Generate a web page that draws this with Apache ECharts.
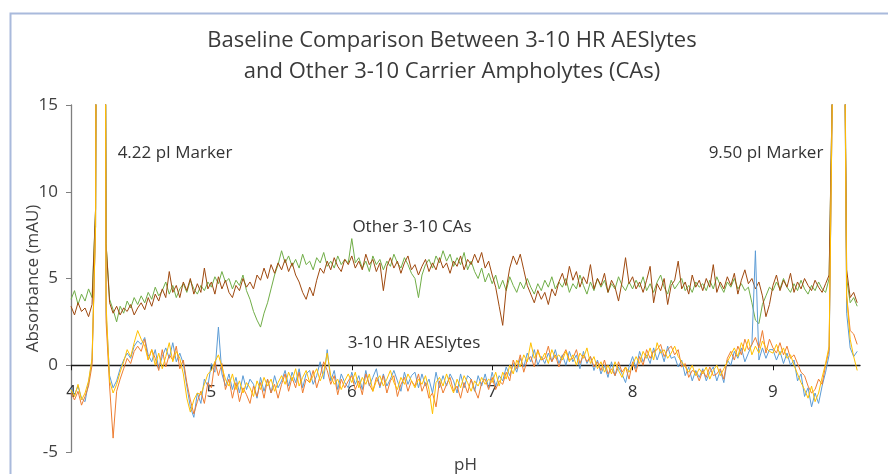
<!DOCTYPE html>
<html>
<head>
<meta charset="utf-8">
<script src="https://cdn.jsdelivr.net/npm/echarts@6/dist/echarts.min.js"></script>
<style>
html,body{margin:0;padding:0;background:#fff;}
#chart{width:888px;height:474px;}
</style>
</head>
<body>
<div id="chart"></div>
<script>
var phStart = 4.0;
var phStep = 0.025;

var xTicks = [4, 5, 6, 7, 8, 9];
var yTicks = [-5, 0, 5, 10, 15];

// Other 3-10 CAs (green)
var caGreen = [
 3.8, 4.3, 3.5, 4.1, 3.7, 4.4, 3.9, 9, 80, 80, 7, 3.8, 3.2, 2.5, 3.4, 3.0, 3.7, 3.3, 3.9, 3.5,
 4.0, 3.6, 4.2, 3.8, 4.5, 4.0, 4.3, 4.8, 4.1, 4.6, 3.9, 4.4, 4.7, 4.2, 4.9, 4.4, 4.1, 4.6, 4.3, 4.8,
 4.5, 5.1, 4.7, 5.4, 4.8, 5.0, 4.4, 4.9, 4.6, 5.2, 4.3, 3.8, 3.1, 2.6, 2.2, 3.0, 3.6, 4.4, 5.2, 5.8,
 6.6, 5.9, 6.3, 5.7, 6.1, 5.6, 6.4, 5.8, 6.0, 5.5, 6.2, 5.9, 6.5, 5.7, 6.0, 5.6, 6.3, 5.8, 6.1, 5.9,
 7.3, 5.9, 6.2, 5.6, 6.0, 5.4, 6.3, 5.8, 6.1, 5.5, 6.0, 5.7, 6.4, 5.9, 5.6, 6.2, 5.8, 5.3, 5.0, 3.9,
 5.2, 5.8, 6.1, 5.6, 6.3, 5.9, 6.6, 6.0, 6.4, 5.7, 6.2, 5.8, 6.5, 5.5, 6.0, 5.4, 5.0, 5.6, 4.8, 5.3,
 4.7, 5.2, 4.4, 4.9, 4.3, 5.1, 4.6, 4.2, 4.8, 4.4, 5.0, 4.5, 4.1, 4.7, 4.3, 4.9, 4.5, 5.1, 4.4, 4.8,
 4.5, 5.0, 4.2, 4.7, 4.4, 5.2, 4.6, 4.1, 4.8, 4.3, 5.0, 4.5, 4.9, 4.2, 4.7, 4.4, 5.1, 4.6, 4.3, 4.8,
 4.4, 4.9, 4.5, 5.1, 4.3, 4.7, 4.2, 4.8, 5.2, 4.5, 4.1, 4.9, 4.4, 4.7, 5.0, 4.3, 4.6, 4.2, 4.8, 4.5,
 4.7, 4.3, 4.9, 4.4, 5.1, 4.6, 4.2, 4.8, 4.5, 5.0, 4.4, 4.7, 4.3, 4.5, 3.6, 2.6, 2.4, 3.5, 4.0, 4.5,
 4.3, 4.8, 4.4, 5.0, 4.5, 4.2, 4.7, 4.3, 4.9, 4.4, 4.1, 4.6, 4.3, 4.8, 4.4, 4.2, 5.0, 17, 80, 80,
 30, 5.0, 3.6, 3.9, 3.4
];

// Other 3-10 CAs (brown)
var caBrown = [
 3.4, 2.9, 3.6, 3.1, 3.3, 2.8, 3.5, 9, 80, 80, 7, 3.6, 3.0, 3.4, 2.9, 3.3, 3.1, 3.5, 2.9, 3.3,
 3.6, 3.2, 3.9, 3.4, 4.1, 3.7, 4.4, 3.9, 5.4, 4.2, 4.6, 3.9, 4.8, 4.3, 5.0, 4.1, 4.7, 4.2, 5.6, 4.4,
 4.8, 4.1, 5.1, 4.4, 4.9, 4.2, 3.9, 4.6, 4.3, 5.0, 4.5, 4.8, 4.4, 5.2, 4.9, 5.6, 5.0, 5.8, 5.3, 5.9,
 5.5, 6.1, 5.4, 5.9, 5.2, 4.8, 4.2, 3.8, 4.5, 4.0, 4.9, 5.6, 5.3, 6.0, 5.5, 6.2, 5.7, 5.4, 6.1, 5.8,
 6.3, 5.6, 6.0, 5.5, 6.4, 5.8, 6.1, 5.4, 5.9, 4.3, 5.7, 6.2, 5.6, 6.0, 5.3, 5.9, 6.3, 5.5, 5.8, 5.2,
 5.7, 6.1, 5.4, 5.9, 5.5, 6.2, 5.6, 5.9, 5.3, 6.0, 5.7, 6.3, 5.5, 6.1, 5.8, 6.4, 5.9, 6.5, 5.6, 6.0,
 5.2, 4.5, 3.4, 2.3, 4.4, 5.6, 6.3, 5.8, 6.4, 5.5, 4.6, 4.1, 3.6, 4.3, 3.8, 4.2, 3.5, 4.4, 4.0, 4.8,
 5.3, 4.6, 5.7, 4.9, 5.4, 4.5, 5.1, 4.7, 5.8, 4.4, 5.0, 4.6, 5.3, 4.2, 4.9, 4.5, 3.7, 4.8, 6.2, 4.7,
 5.1, 4.4, 4.8, 4.2, 4.9, 5.7, 3.6, 4.7, 4.3, 5.0, 3.5, 4.6, 4.9, 6.0, 4.4, 4.8, 4.1, 5.2, 4.5, 4.9,
 4.3, 5.0, 4.5, 5.8, 4.2, 4.8, 4.4, 5.1, 4.6, 5.3, 4.1, 4.9, 5.5, 4.7, 5.0, 4.4, 4.8, 4.0, 2.8, 3.5,
 4.6, 5.2, 4.3, 4.9, 4.5, 5.3, 4.2, 4.8, 4.4, 5.0, 4.6, 4.3, 4.9, 4.5, 4.2, 4.7, 5.2, 17, 80, 80,
 30, 5.5, 3.9, 4.2, 3.6
];

// 3-10 HR AESlytes (blue)
var aesBlue = [
 -1.3, -1.7, -1.2, -1.9, -2.1, -1.0, 0.3, 8, 80, 80, 3, -0.6, -1.3, -0.9, -0.2, 0.3, 0.7, 0.4, 1.1, 1.4,
 1.2, 1.6, 0.6, 0.2, 0.9, -0.2, 0.5, 1.0, 0.4, 1.3, 0.2, 0.7, 0.1, -1.2, -2.4, -3.0, -1.6, -2.2, -0.8, -1.2,
 0.1, -0.4, 2.2, -0.5, -1.2, -0.5, -1.4, -0.7, -1.6, -0.6, -1.4, -0.8, -1.1, -1.9, -0.7, -1.5, -0.8, -1.6, -0.6, -1.3,
 -0.9, -0.3, -1.2, -0.4, -1.0, -0.2, -1.3, -0.5, -0.3, -1.1, -0.6, 0.2, -0.8, 0.9, -0.9, -0.3, -1.4, -0.5, -1.0, -1.3,
 -0.4, -1.1, -0.6, -1.4, -0.3, -1.2, -0.7, -0.2, -1.3, -0.5, -1.2, -0.8, -0.3, -0.9, -1.5, -0.4, -1.1, -0.6, -0.4, -1.3,
 -0.5, -1.2, -0.8, -1.6, -0.4, -1.3, -0.6, -1.2, -0.5, -0.9, -1.6, -0.5, -1.3, -0.6, -0.8, -1.5, -0.6, -1.2, -0.5, -1.3,
 -0.4, -1.2, -0.6, -0.9, -0.1, -0.6, 0.1, -0.4, 0.4, -0.1, 0.7, 0.2, 0.9, 0.0, 0.5, 0.1, 0.7, 0.2, 0.9, 0.1,
 0.6, 0.0, 0.8, 0.2, 0.6, -0.2, 0.8, 0.1, 0.5, -0.3, 0.3, -0.5, 0.0, -0.7, 0.2, -0.6, -0.1, -0.5, -1.0, -0.1,
 0.5, -0.2, 0.8, 0.2, 0.6, 0.1, 1.0, 0.3, 0.9, 0.2, 1.1, 0.4, 0.5, -0.1, 0.3, -0.6, -0.1, -0.9, -0.3, -0.7,
 -0.2, -0.9, -0.4, -0.1, -0.9, -0.3, -1.0, 0.3, 0.0, 0.8, 0.4, 1.0, 0.2, 0.7, 1.2, 6.6, 0.3, 1.0, 0.4, 0.9,
 0.9, 0.3, 0.8, 0.1, 0.7, 0.0, 0.3, -0.9, -0.5, -1.8, -1.3, -2.4, -1.6, -2.2, -1.2, -0.4, 0.6, 17, 80, 80,
 30, 3, 1.0, 0.5, 0.8
];

// 3-10 HR AESlytes (orange)
var aesOrange = [
 -1.6, -2.0, -1.5, -2.3, -1.8, -1.2, 0.0, 8, 80, 80, 2.5, -1.2, -4.2, -1.5, -0.8, -0.2, 0.4, 0.1, 0.8, 1.1,
 0.8, 1.5, 0.3, 0.9, 0.4, -0.3, 0.9, -0.1, 0.6, 0.3, 1.1, -0.2, 0.3, -1.0, -2.0, -2.8, -2.1, -1.5, -2.2, -1.0,
 -1.3, 0.2, -0.6, 0.1, -1.4, -0.8, -1.9, -1.0, -2.1, -1.3, -1.7, -2.2, -1.2, -1.8, -1.0, -1.9, -0.8, -1.6, -1.1, -1.9,
 -1.1, -0.5, -1.5, -0.7, -1.3, -0.4, -1.6, -0.8, -1.0, -0.3, -1.3, -0.6, 0.2, -0.3, -1.1, -0.6, -1.7, -0.8, -1.3, -0.9,
 -0.6, -1.4, -0.9, -1.7, -0.5, -1.1, -1.5, -0.7, -1.2, -0.6, -1.6, -0.9, -0.6, -1.8, -1.1, -0.7, -1.5, -0.9, -1.2, -0.5,
 -1.5, -1.0, -1.9, -1.6, -2.4, -0.9, -1.6, -1.1, -0.7, -1.5, -1.2, -1.9, -1.0, -1.6, -0.8, -1.4, -1.9, -1.0, -0.8, -1.4,
 -0.7, -1.4, -0.9, -1.1, -0.4, -0.9, 0.3, -0.2, 0.6, -0.4, 0.3, 0.5, -0.1, 0.9, 0.3, 0.4, 1.1, 0.2, 0.6, -0.1,
 0.5, 0.9, 0.3, 0.4, 0.9, 0.1, 0.6, 0.2, 0.5, -0.1, 0.2, -0.3, 0.3, -0.5, -0.2, -0.6, 0.2, -0.4, -0.1, -0.8,
 0.2, -0.4, 0.5, 0.0, 0.9, 0.4, 0.8, 0.9, 1.2, 0.5, 0.9, 1.1, 0.6, 0.9, -0.1, 0.1, -0.7, -0.3, -0.4, -0.9,
 -0.3, -0.7, -0.1, -0.6, -0.5, -0.2, -0.8, 0.4, 0.8, 0.3, 1.1, 0.6, 1.5, 0.9, 1.2, 1.6, 1.0, 2.0, 0.7, 1.5,
 1.0, 0.7, 1.3, 0.6, 1.1, 0.4, 0.6, 0.1, -0.4, -0.6, -1.2, -1.6, -1.4, -0.8, -1.1, 0.0, 0.9, 17, 80, 80,
 30, 4, 2.0, 1.8, 1.2
];

// 3-10 HR AESlytes (gold)
var aesGold = [
 -1.4, -1.8, -1.1, -2.0, -1.6, -0.9, 0.4, 8, 80, 80, 3.5, -0.9, -1.6, -1.1, -0.4, 0.2, 0.9, 0.5, 1.3, 2.0,
 1.5, 1.1, 0.3, 0.9, 0.0, 0.7, -0.2, 0.5, 1.3, 0.2, 0.8, 0.4, -0.5, -1.9, -2.7, -2.0, -1.6, -1.7, -1.1, -0.5,
 -0.3, 0.2, 0.6, -0.1, -0.8, -1.2, -0.5, -1.4, -0.9, -1.6, -1.0, -1.3, -1.8, -0.9, -1.4, -0.7, -1.2, -0.8, -1.5, -1.0,
 -0.6, -1.1, -0.4, -0.9, -0.2, -1.2, -0.7, -0.3, -1.0, -0.6, -0.2, -0.9, -0.4, 0.7, -0.6, -1.1, -0.8, -1.4, -0.9, -0.5,
 -1.0, -0.4, -1.3, -0.7, -1.1, -0.5, -1.5, -0.9, -0.6, -1.2, -0.8, -0.3, -1.0, -1.4, -0.7, -1.1, -0.5, -0.9, -1.3, -0.8,
 -1.1, -0.6, -1.4, -2.8, -1.0, -0.7, -1.2, -0.5, -1.1, -1.6, -0.8, -1.3, -0.6, -1.0, -1.5, -0.9, -1.2, -0.7, -1.1, -0.8,
 -1.0, -0.4, -1.2, -0.4, -0.8, 0.0, -0.5, 0.3, -0.1, 0.6, 0.2, 1.3, 0.4, 0.8, 0.3, 0.7, 0.1, 0.9, 0.4, 0.6,
 0.3, 0.8, 0.2, 0.6, 0.0, 0.7, 0.4, 1.0, 0.1, 0.5, -0.2, 0.2, -0.4, 0.0, -0.5, 0.2, -0.3, -0.7, -0.1, -0.4,
 0.0, 0.5, 0.1, 0.8, 0.4, 1.0, 0.3, 1.3, 0.7, 0.9, 0.4, 0.7, 1.1, 0.5, 0.2, -0.1, -0.4, 0.0, -0.6, -0.2,
 -0.5, -0.1, -0.8, -0.3, 0.0, -0.6, -0.2, 0.2, 0.6, 1.0, 0.5, 1.3, 0.8, 1.5, 0.6, 1.1, 0.7, 1.4, 1.0, 0.8,
 0.7, 1.2, 0.6, 1.0, 0.4, 0.6, 0.0, -0.5, -1.0, -1.4, -1.9, -1.2, -2.1, -1.6, -0.7, 0.1, 1.1, 17, 80, 80,
 30, 4, 1.5, 0.5, -0.3
];

var seriesNames = ['Other 3-10 CAs (A)', 'Other 3-10 CAs (B)', '3-10 HR AESlytes (1)', '3-10 HR AESlytes (2)', '3-10 HR AESlytes (3)'];
var seriesValues = [caGreen, caBrown, aesBlue, aesOrange, aesGold];
var seriesColors = ['#70AD47', '#9E480E', '#5B9BD5', '#ED7D31', '#FFC000'];

function pairs(vals) {
  return vals.map(function (v, i) { return [+(phStart + phStep * i).toFixed(3), v]; });
}

var FONT = '"Open Sans", "Noto Sans", sans-serif';
// the x axis sits on y = 0: grid bottom is at -5, and 0 is 1/4 of the way up the y range
var GRID_TOP = 105, GRID_BOTTOM = 22, CH = 474;
var plotH = CH - GRID_TOP - GRID_BOTTOM;
var zeroOffset = -plotH * (0 - yTicks[0]) / (yTicks[yTicks.length - 1] - yTicks[0]);

var chart = echarts.init(document.getElementById('chart'), null, {renderer: 'canvas'});
chart.setOption({
  animation: false,
  backgroundColor: '#ffffff',
  grid: {left: 71, right: 28, top: GRID_TOP, bottom: GRID_BOTTOM, containLabel: false, outerBoundsMode: 'none'},
  xAxis: {
    type: 'value', min: 4, max: 9.62,
    position: 'bottom', offset: zeroOffset,
    name: 'pH', nameLocation: 'middle', nameGap: 91, nameMoveOverlap: false,
    nameTextStyle: {fontFamily: FONT, fontSize: 17, color: '#404040'},
    axisLine: {onZero: false, lineStyle: {color: '#1a1a1a', width: 1.3}},
    axisTick: {show: true, length: 5, lineStyle: {color: '#1a1a1a'}, customValues: xTicks},
    axisLabel: {customValues: xTicks, fontFamily: FONT, fontSize: 17, color: '#333333', margin: 18},
    splitLine: {show: false}
  },
  yAxis: {
    type: 'value', min: -5, max: 15, interval: 5,
    name: 'Absorbance (mAU)', nameLocation: 'middle', nameGap: 29, nameRotate: 90, nameMoveOverlap: false,
    nameTextStyle: {fontFamily: FONT, fontSize: 17, color: '#404040'},
    axisLine: {show: true, onZero: false, lineStyle: {color: '#7f7f7f', width: 1.3}},
    axisTick: {show: true, length: 5, lineStyle: {color: '#7f7f7f'}},
    axisLabel: {customValues: yTicks, fontFamily: FONT, fontSize: 17, color: '#404040', margin: 13},
    splitLine: {show: false}
  },
  series: seriesValues.map(function (vals, k) {
    return {
      name: seriesNames[k], type: 'line', data: pairs(vals),
      showSymbol: false, symbol: 'none', clip: true,
      lineStyle: {color: seriesColors[k], width: 1},
      z: 2 + k
    };
  }),
  graphic: [
    {type: 'rect', left: 8, top: 11, shape: {width: 900, height: 500},
     style: {fill: 'none', stroke: '#A9BADC', lineWidth: 2}, silent: true},
    {type: 'text', x: 452, y: 41, style: {text: 'Baseline Comparison Between 3-10 HR AESlytes', font: '22px ' + FONT, fill: '#3a3a3a', textAlign: 'center', textVerticalAlign: 'middle'}},
    {type: 'text', x: 452, y: 72, style: {text: 'and Other 3-10 Carrier Ampholytes (CAs)', font: '22px ' + FONT, fill: '#3a3a3a', textAlign: 'center', textVerticalAlign: 'middle'}},
    {type: 'text', x: 175, y: 153, style: {text: '4.22 pI Marker', font: '17px ' + FONT, fill: '#333333', textAlign: 'center', textVerticalAlign: 'middle'}},
    {type: 'text', x: 766, y: 153, style: {text: '9.50 pI Marker', font: '17px ' + FONT, fill: '#333333', textAlign: 'center', textVerticalAlign: 'middle'}},
    {type: 'text', x: 412, y: 227, style: {text: 'Other 3-10 CAs', font: '17px ' + FONT, fill: '#333333', textAlign: 'center', textVerticalAlign: 'middle'}},
    {type: 'text', x: 414, y: 343, style: {text: '3-10 HR AESlytes', font: '17px ' + FONT, fill: '#333333', textAlign: 'center', textVerticalAlign: 'middle'}}
  ]
});
</script>
</body>
</html>
